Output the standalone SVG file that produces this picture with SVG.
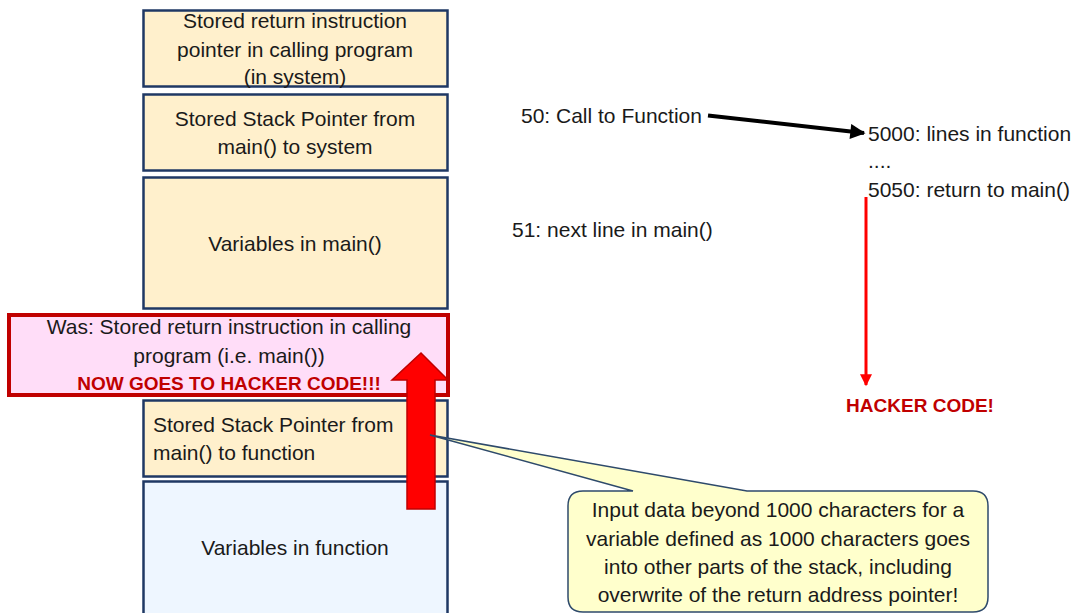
<svg xmlns="http://www.w3.org/2000/svg" width="1083" height="613" viewBox="0 0 1083 613">
  <defs>
    <style>
      text { font-family: "Liberation Sans", Arial, sans-serif; font-size: 21px; fill: #1a1a1a; }
      .c { text-anchor: middle; }
      .frame { fill: #FFF0CC; stroke: #1F3864; stroke-width: 2.5; }
      .frame-blue { fill: #EEF6FF; stroke: #1F3864; stroke-width: 2.5; }
      .hack { fill: #C00000; font-weight: bold; font-size: 19px; }
      .flow { fill: none; }
    </style>
    <marker id="head-black" viewBox="0 0 10 10" refX="9" refY="5" markerWidth="4.5" markerHeight="3.8" orient="auto" markerUnits="strokeWidth">
      <path d="M0,0 L10,5 L0,10 z" fill="#000"/>
    </marker>
    <marker id="head-red" viewBox="0 0 10 10" refX="9" refY="5" markerWidth="5" markerHeight="4" orient="auto" markerUnits="strokeWidth">
      <path d="M0,0 L10,5 L0,10 z" fill="#FF0000"/>
    </marker>
  </defs>

  <rect width="1083" height="613" fill="#fff"/>

  <!-- stack frames -->
  <g id="ret-system">
    <rect class="frame" x="143.5" y="10.5" width="304" height="76"/>
    <text class="c" x="295" y="28">Stored return instruction</text>
    <text class="c" x="295" y="57">pointer in calling program</text>
    <text class="c" x="295" y="84">(in system)</text>
  </g>
  <g id="sp-system">
    <rect class="frame" x="143.5" y="94.5" width="304" height="76"/>
    <text class="c" x="295" y="126">Stored Stack Pointer from</text>
    <text class="c" x="295" y="154">main() to system</text>
  </g>
  <g id="vars-main">
    <rect class="frame" x="143.5" y="177.5" width="304" height="131"/>
    <text class="c" x="295" y="251">Variables in main()</text>
  </g>
  <g id="ret-main">
    <rect x="9" y="315" width="439" height="80" fill="#FFDDF8" stroke="#C00000" stroke-width="4"/>
    <text class="c" x="229" y="334">Was: Stored return instruction in calling</text>
    <text class="c" x="229" y="363">program (i.e. main())</text>
    <text class="c hack" x="229" y="390">NOW GOES TO HACKER CODE!!!</text>
  </g>
  <g id="sp-function">
    <rect class="frame" x="143.5" y="400.5" width="304" height="76"/>
    <text x="153" y="432">Stored Stack Pointer from</text>
    <text x="153" y="460">main() to function</text>
  </g>
  <g id="vars-function">
    <rect class="frame-blue" x="143.5" y="481.5" width="304" height="140"/>
    <text class="c" x="295" y="555">Variables in function</text>
  </g>

  <!-- overflow arrow pushing into the return slot -->
  <g id="overflow">
    <polygon points="407,509 435,509 435,380 448,380 421,353 392,380 407,380" fill="#FF0000" stroke="#C00000" stroke-width="1.5" stroke-linejoin="miter"/>
  </g>

  <!-- code listing -->
  <g id="code">
    <text x="521" y="123">50: Call to Function</text>
    <text x="512" y="237">51: next line in main()</text>
    <text x="868" y="141">5000: lines in function</text>
    <text x="868" y="168">....</text>
    <text x="868" y="197">5050: return to main()</text>
    <text class="hack" x="920" y="412" text-anchor="middle">HACKER CODE!</text>
  </g>

  <!-- connectors -->
  <g id="connectors" class="flow">
    <line x1="708" y1="115.5" x2="864" y2="133" stroke="#000" stroke-width="4" marker-end="url(#head-black)"/>
    <line x1="866" y1="197" x2="866" y2="385" stroke="#FF0000" stroke-width="3" marker-end="url(#head-red)"/>
  </g>

  <!-- explanatory callout -->
  <g id="callout">
    <path d="M583,491 L633,491 L430,435 L747,491 L973,491 Q988,491 988,506 L988,597 Q988,612 973,612 L583,612 Q568,612 568,597 L568,506 Q568,491 583,491 Z" fill="#FFFFCC" stroke="#2E4A6B" stroke-width="1.5"/>
    <text class="c" x="778" y="517">Input data beyond 1000 characters for a</text>
    <text class="c" x="778" y="546">variable defined as 1000 characters goes</text>
    <text class="c" x="778" y="574">into other parts of the stack, including</text>
    <text class="c" x="778" y="602">overwrite of the return address pointer!</text>
  </g>
</svg>
